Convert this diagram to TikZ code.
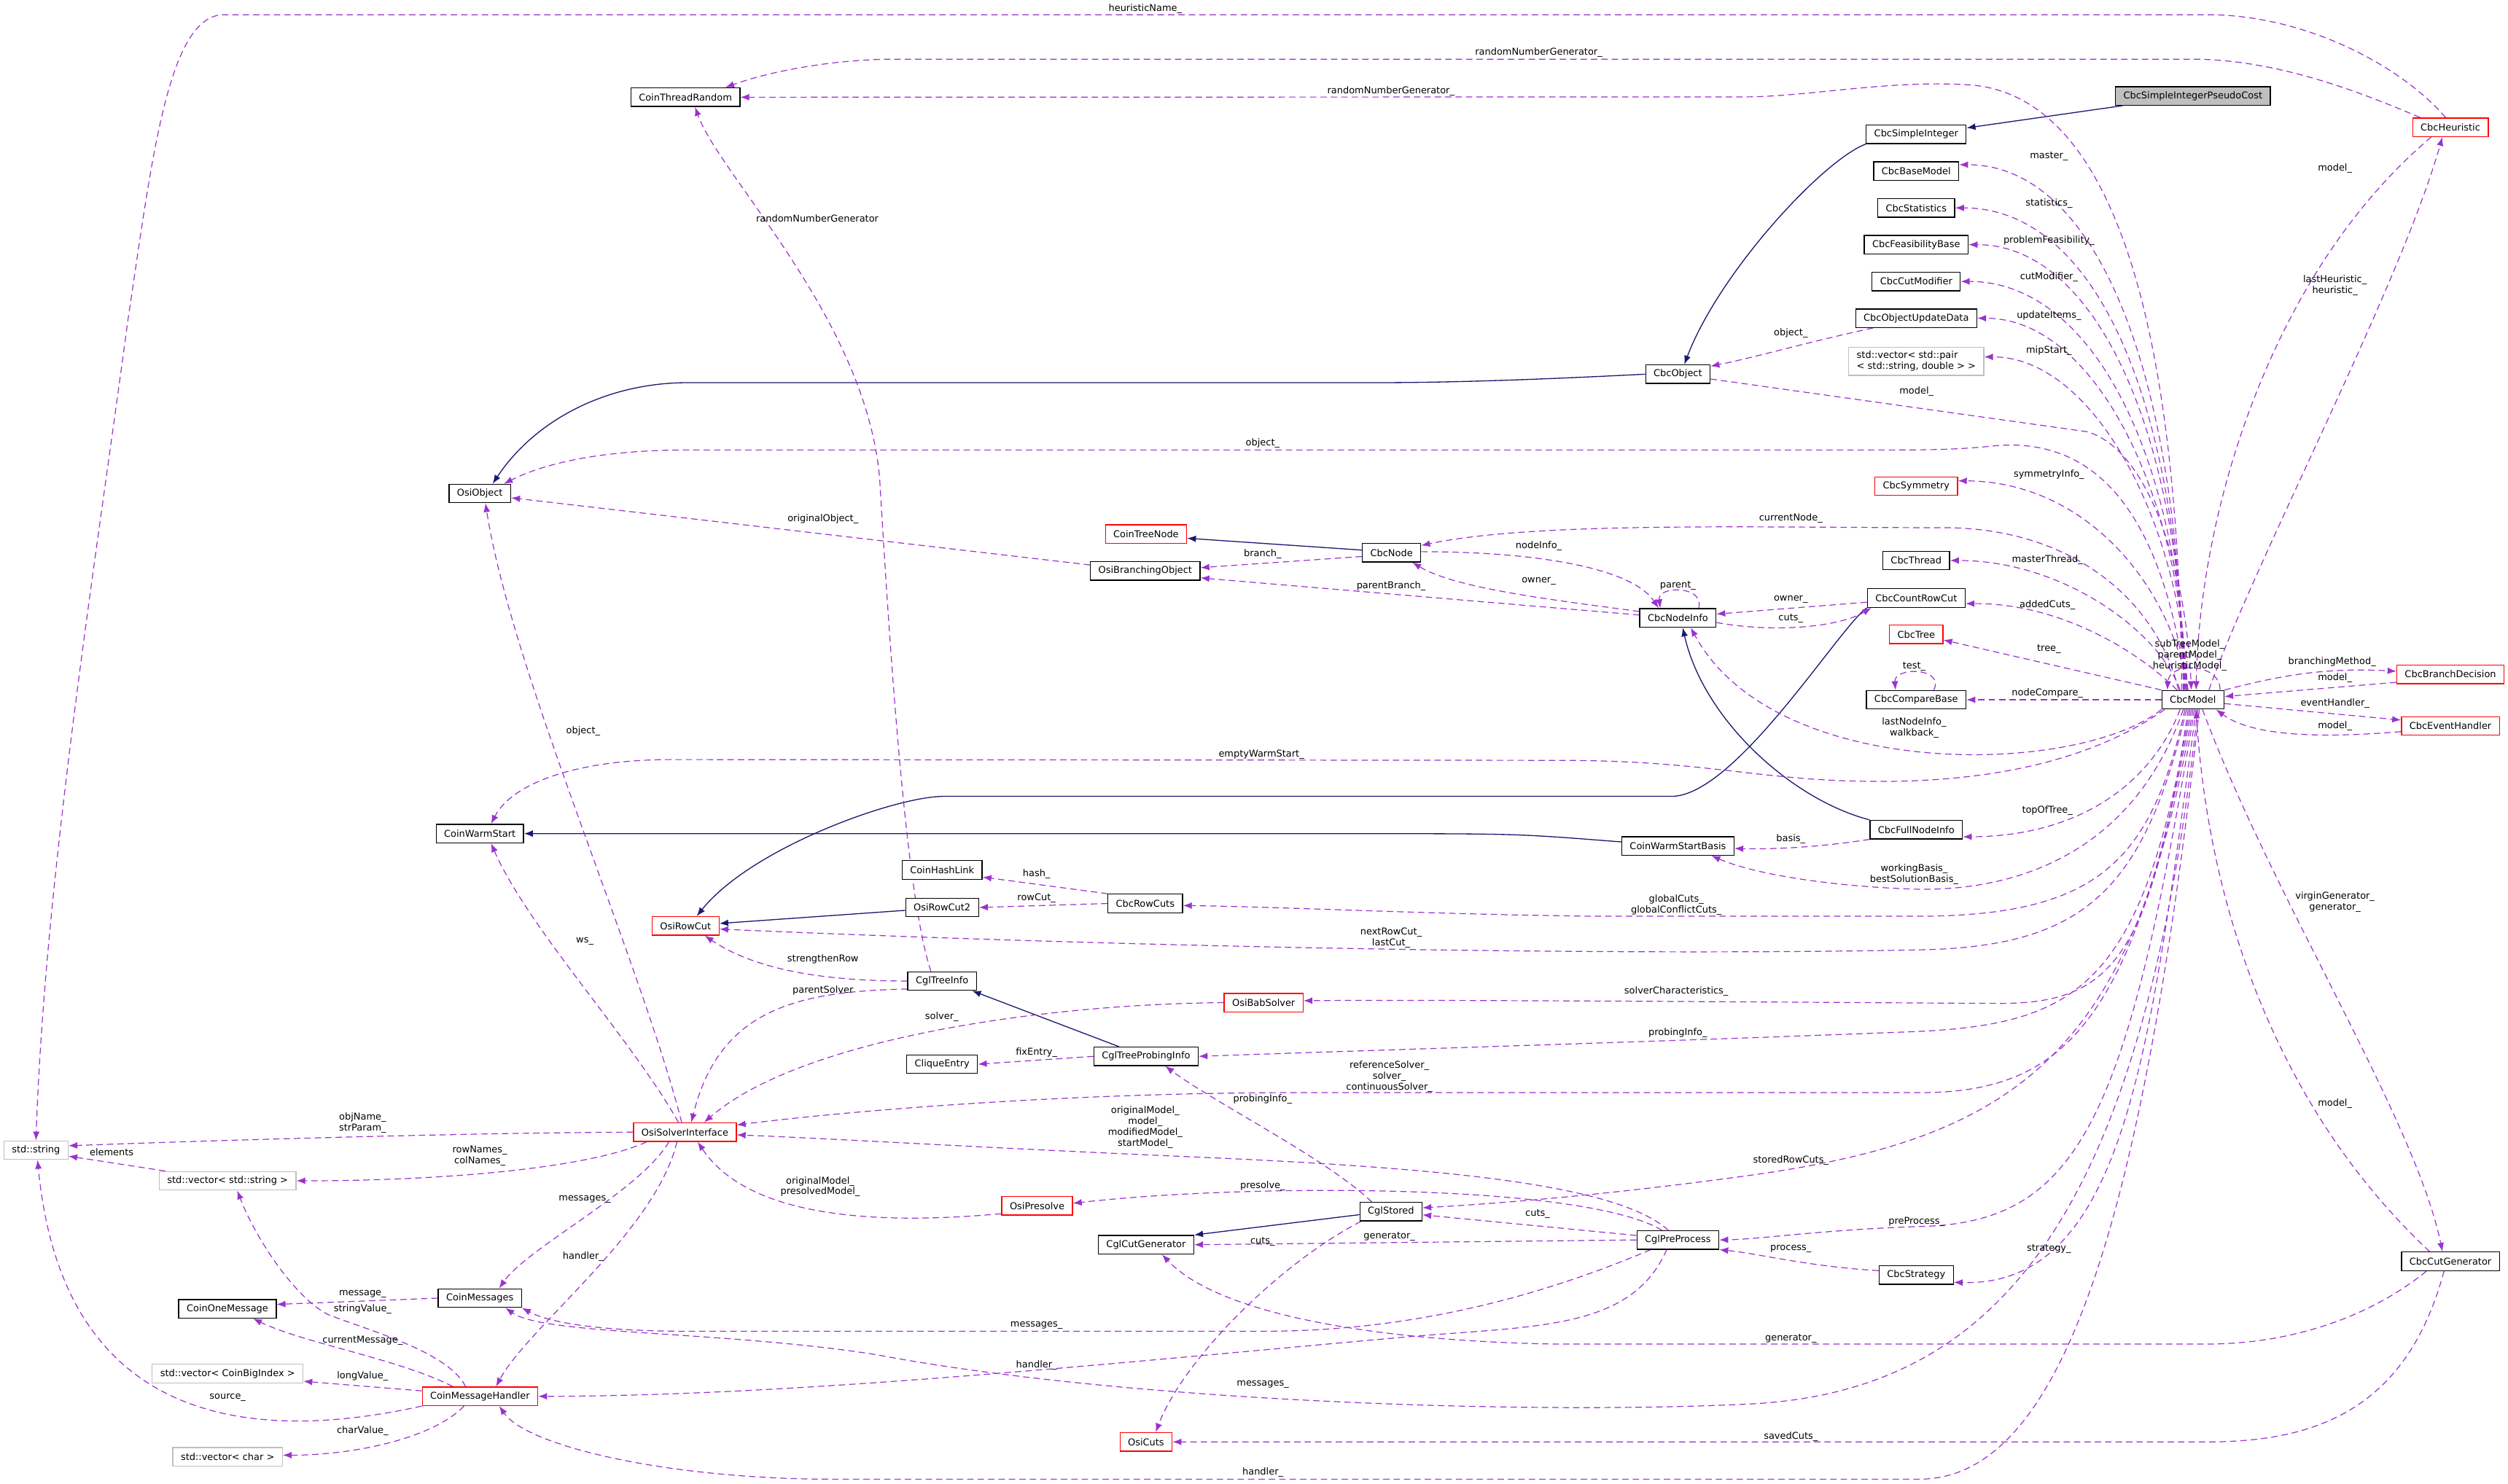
\documentclass[tikz,border=0pt]{standalone}
\usepackage{fontspec}
\setmainfont{DejaVu Sans}
\usetikzlibrary{arrows.meta}
\pgfdeclarelayer{edges}
\pgfsetlayers{edges,main}
\definecolor{EdgeUse}{HTML}{9A32CD}
\definecolor{EdgeInh}{HTML}{191970}
\definecolor{BoxGray}{HTML}{BFBFBF}
\definecolor{BoxRed}{HTML}{FF0000}
\tikzset{
  dxnode/.style={draw=black, fill=white, line width=0.6pt, inner xsep=5pt, inner ysep=1pt, minimum height=11.6pt, font=\fontsize{5.9}{6.8}\selectfont},
  dxred/.style={dxnode, draw=BoxRed},
  dxgray/.style={dxnode, draw=BoxGray},
  dxhl/.style={dxnode, fill=BoxGray},
  dxlabel/.style={align=center, inner sep=0pt, font=\fontsize{5.9}{6.8}\selectfont},
  dxinh/.style={-{Latex[length=5.5pt,width=4.2pt]}, line width=0.6pt, draw=EdgeInh},
  dxuse/.style={-{Latex[length=5.5pt,width=4.2pt]}, line width=0.55pt, draw=EdgeUse, dash pattern=on 4pt off 2.5pt}
}
\begin{document}
\begin{tikzpicture}[x=1pt,y=-1pt]
  \useasboundingbox (0,0) rectangle (1568,928);
  % classes
  \node[dxhl] (PseudoCost) at (1371,60) {CbcSimpleIntegerPseudoCost};
  \node[dxnode] (SimpleInteger) at (1198,84) {CbcSimpleInteger};
  \node[dxnode] (BaseModel) at (1198,107) {CbcBaseModel};
  \node[dxnode] (Statistics) at (1198,130) {CbcStatistics};
  \node[dxnode] (Feasibility) at (1198,153) {CbcFeasibilityBase};
  \node[dxnode] (CutModifier) at (1198,176) {CbcCutModifier};
  \node[dxnode] (UpdateData) at (1198,199) {CbcObjectUpdateData};
  \node[dxgray, align=left, inner ysep=2.5pt] (VecPair) at (1198,226) {std::vector< std::pair\\< std::string, double > >};
  \node[dxnode] (CbcObject) at (1049,234) {CbcObject};
  \node[dxred] (Symmetry) at (1198,304) {CbcSymmetry};
  \node[dxred] (Heuristic) at (1532,79.6) {CbcHeuristic};
  \node[dxnode] (ThreadRandom) at (428.5,60.8) {CoinThreadRandom};
  \node[dxnode] (OsiObject) at (300,308.6) {OsiObject};
  \node[dxred] (TreeNode) at (716.5,334) {CoinTreeNode};
  \node[dxnode] (BranchingObject) at (716,357) {OsiBranchingObject};
  \node[dxnode] (CbcNode) at (870,345.6) {CbcNode};
  \node[dxnode] (NodeInfo) at (1049,386.4) {CbcNodeInfo};
  \node[dxnode] (Thread) at (1198,350.5) {CbcThread};
  \node[dxnode] (CountRowCut) at (1198,374) {CbcCountRowCut};
  \node[dxred] (Tree) at (1198,396.7) {CbcTree};
  \node[dxnode] (CompareBase) at (1198,437.6) {CbcCompareBase};
  \node[dxnode] (CbcModel) at (1371,437.6) {CbcModel};
  \node[dxred] (BranchDecision) at (1532,421.7) {CbcBranchDecision};
  \node[dxred] (EventHandler) at (1532,454) {CbcEventHandler};
  \node[dxnode] (WarmStart) at (300,521.3) {CoinWarmStart};
  \node[dxnode] (WarmStartBasis) at (1049,529) {CoinWarmStartBasis};
  \node[dxnode] (FullNodeInfo) at (1198,518.8) {CbcFullNodeInfo};
  \node[dxnode] (HashLink) at (589,544) {CoinHashLink};
  \node[dxnode] (RowCut2) at (589,567.5) {OsiRowCut2};
  \node[dxred] (RowCut) at (428.6,579) {OsiRowCut};
  \node[dxnode] (RowCuts) at (716,565) {CbcRowCuts};
  \node[dxnode] (TreeInfo) at (589,613.5) {CglTreeInfo};
  \node[dxred] (BabSolver) at (790,627) {OsiBabSolver};
  \node[dxnode] (CliqueEntry) at (589,665.5) {CliqueEntry};
  \node[dxnode] (ProbingInfo) at (716.5,660.6) {CglTreeProbingInfo};
  \node[dxgray] (StdString) at (22.5,719.3) {std::string};
  \node[dxgray] (VecString) at (142.3,738.4) {std::vector< std::string >};
  \node[dxred] (SolverIf) at (428.2,708) {OsiSolverInterface};
  \node[dxred] (Presolve) at (648.4,754) {OsiPresolve};
  \node[dxnode] (Stored) at (869.6,757.7) {CglStored};
  \node[dxnode] (CutGen) at (716.5,778.4) {CglCutGenerator};
  \node[dxnode] (PreProcess) at (1049,775.4) {CglPreProcess};
  \node[dxnode] (Strategy) at (1198,797.4) {CbcStrategy};
  \node[dxnode] (CbcCutGen) at (1532,788.8) {CbcCutGenerator};
  \node[dxnode] (Messages) at (300,811.8) {CoinMessages};
  \node[dxnode] (OneMessage) at (142.2,818.5) {CoinOneMessage};
  \node[dxgray] (VecBigIndex) at (142.3,859) {std::vector< CoinBigIndex >};
  \node[dxred] (MsgHandler) at (300.1,873.2) {CoinMessageHandler};
  \node[dxgray] (VecChar) at (142.3,911) {std::vector< char >};
  \node[dxred] (OsiCuts) at (716.5,901.7) {OsiCuts};
  % member labels
  \node[dxlabel] (lbHeurName) at (716,5.5) {heuristicName\_};
  \node[dxlabel] (lbRngHeur) at (962,33) {randomNumberGenerator\_};
  \node[dxlabel] (lbRngModel) at (869.6,57) {randomNumberGenerator\_};
  \node[dxlabel] (lbRngTree) at (511,136.4) {randomNumberGenerator};
  \node[dxlabel] (lbMaster) at (1281,97.9) {master\_};
  \node[dxlabel] (lbStats) at (1281,127.4) {statistics\_};
  \node[dxlabel] (lbFeas) at (1281,150.6) {problemFeasibility\_};
  \node[dxlabel] (lbCutMod) at (1281,173.4) {cutModifier\_};
  \node[dxlabel] (lbUpdate) at (1281,197.2) {updateItems\_};
  \node[dxlabel] (lbMip) at (1281,219.1) {mipStart\_};
  \node[dxlabel] (lbObjUpd) at (1119.6,208.2) {object\_};
  \node[dxlabel] (lbModelObj) at (1198.2,244.6) {model\_};
  \node[dxlabel] (lbObjModel) at (789.4,277.4) {object\_};
  \node[dxlabel] (lbSym) at (1281,297) {symmetryInfo\_};
  \node[dxlabel] (lbModelHeur) at (1459.8,105.2) {model\_};
  \node[dxlabel] (lbHeur) at (1459.8,178.4) {lastHeuristic\_\\heuristic\_};
  \node[dxlabel] (lbCurNode) at (1119.6,324.1) {currentNode\_};
  \node[dxlabel] (lbOrigObj) at (514.5,324.8) {originalObject\_};
  \node[dxlabel] (lbBranch) at (789.4,346.5) {branch\_};
  \node[dxlabel] (lbNodeInfo) at (962,341.4) {nodeInfo\_};
  \node[dxlabel] (lbOwnerNode) at (962,363.4) {owner\_};
  \node[dxlabel] (lbParBranch) at (869.7,366.3) {parentBranch\_};
  \node[dxlabel] (lbParent) at (1049,366.3) {parent\_};
  \node[dxlabel] (lbMThread) at (1280,350.2) {masterThread\_};
  \node[dxlabel] (lbOwnerCut) at (1119.6,375) {owner\_};
  \node[dxlabel] (lbCuts) at (1119.6,386.8) {cuts\_};
  \node[dxlabel] (lbAdded) at (1280,378.4) {addedCuts\_};
  \node[dxlabel] (lbTree) at (1281,405.9) {tree\_};
  \node[dxlabel] (lbSelf) at (1369,410) {subTreeModel\_\\parentModel\_\\heuristicModel\_};
  \node[dxlabel] (lbTest) at (1196.7,416.7) {test\_};
  \node[dxlabel] (lbCompare) at (1280,433.6) {nodeCompare\_};
  \node[dxlabel] (lbBranchM) at (1458,414) {branchingMethod\_};
  \node[dxlabel] (lbModelBD) at (1459.8,424) {model\_};
  \node[dxlabel] (lbEvent) at (1459.8,439.7) {eventHandler\_};
  \node[dxlabel] (lbModelEH) at (1459.8,454.2) {model\_};
  \node[dxlabel] (lbLastNode) at (1196.7,455) {lastNodeInfo\_\\walkback\_};
  \node[dxlabel] (lbObjSolver) at (364.6,457.4) {object\_};
  \node[dxlabel] (lbEmptyWS) at (788.6,471.7) {emptyWarmStart\_};
  \node[dxlabel] (lbTop) at (1280,507) {topOfTree\_};
  \node[dxlabel] (lbBasis) at (1119.6,524.5) {basis\_};
  \node[dxlabel] (lbWorkBasis) at (1196.7,547) {workingBasis\_\\bestSolutionBasis\_};
  \node[dxlabel] (lbHash) at (648,546.5) {hash\_};
  \node[dxlabel] (lbRowCut) at (648,561.8) {rowCut\_};
  \node[dxlabel] (lbGlobal) at (1048,565.8) {globalCuts\_\\globalConflictCuts\_};
  \node[dxlabel] (lbVirgin) at (1459.8,564) {virginGenerator\_\\generator\_};
  \node[dxlabel] (lbNextRow) at (869.7,586.7) {nextRowCut\_\\lastCut\_};
  \node[dxlabel] (lbWs) at (365.6,588.7) {ws\_};
  \node[dxlabel] (lbStrengthen) at (514.5,600) {strengthenRow};
  \node[dxlabel] (lbParSolver) at (514.5,619.2) {parentSolver};
  \node[dxlabel] (lbSolverChar) at (1048,619.8) {solverCharacteristics\_};
  \node[dxlabel] (lbSolverBab) at (588.8,635.8) {solver\_};
  \node[dxlabel] (lbProbModel) at (1049,646) {probingInfo\_};
  \node[dxlabel] (lbFix) at (648,658.4) {fixEntry\_};
  \node[dxlabel] (lbRefSolver) at (868.6,673.4) {referenceSolver\_\\solver\_\\continuousSolver\_};
  \node[dxlabel] (lbProbStored) at (789.4,687.6) {probingInfo\_};
  \node[dxlabel] (lbModelCG) at (1459.8,690) {model\_};
  \node[dxlabel] (lbObjName) at (226.7,702.2) {objName\_\\strParam\_};
  \node[dxlabel] (lbOrigModel) at (716,705) {originalModel\_\\model\_\\modifiedModel\_\\startModel\_};
  \node[dxlabel] (lbElements) at (69.8,720.6) {elements};
  \node[dxlabel] (lbRowNames) at (300,722.7) {rowNames\_\\colNames\_};
  \node[dxlabel] (lbStoredRow) at (1119.6,725.5) {storedRowCuts\_};
  \node[dxlabel] (lbPresModel) at (512.8,742.1) {originalModel\_\\presolvedModel\_};
  \node[dxlabel] (lbPresolve) at (789.4,741.5) {presolve\_};
  \node[dxlabel] (lbMsgSolver) at (365.6,749.8) {messages\_};
  \node[dxlabel] (lbCutsPre) at (961.3,759) {cuts\_};
  \node[dxlabel] (lbPreProc) at (1198.2,764) {preProcess\_};
  \node[dxlabel] (lbGenPre) at (868.6,773.3) {generator\_};
  \node[dxlabel] (lbCutsStored) at (789.4,776.6) {cuts\_};
  \node[dxlabel] (lbProcess) at (1119.6,780.8) {process\_};
  \node[dxlabel] (lbStrategy) at (1281,780.8) {strategy\_};
  \node[dxlabel] (lbHandSolver) at (364.6,785.8) {handler\_};
  \node[dxlabel] (lbMessage) at (226.7,809.3) {message\_};
  \node[dxlabel] (lbString) at (226.7,818.6) {stringValue\_};
  \node[dxlabel] (lbMsgPre) at (648,829) {messages\_};
  \node[dxlabel] (lbGenCbc) at (1119.6,837) {generator\_};
  \node[dxlabel] (lbCurMsg) at (226.7,838.4) {currentMessage\_};
  \node[dxlabel] (lbHandPre) at (648,853.6) {handler\_};
  \node[dxlabel] (lbLong) at (226.7,860.6) {longValue\_};
  \node[dxlabel] (lbMsgModel) at (789.5,865.6) {messages\_};
  \node[dxlabel] (lbSource) at (142.3,873.8) {source\_};
  \node[dxlabel] (lbChar) at (226.7,894.7) {charValue\_};
  \node[dxlabel] (lbSaved) at (1119.6,898.4) {savedCuts\_};
  \node[dxlabel] (lbHandModel) at (789.5,921) {handler\_};
  \begin{pgfonlayer}{edges}
  % inheritance
  \draw[dxinh] ([xshift=-44pt]PseudoCost.south) -- ([yshift=4pt]SimpleInteger.east);
  \draw[dxinh] (SimpleInteger.south west) .. controls (1140,100) and (1075,170) .. ([xshift=4pt]CbcObject.north);
  \draw[dxinh] (CbcObject.west) .. controls (950,238) and (900,239.3) .. (860,239.3) -- (430,239.3) .. controls (380,239.3) and (335,262) .. ([xshift=8pt]OsiObject.north);
  \draw[dxinh] ([yshift=1.6pt]CbcNode.west) -- ([yshift=-2.6pt]TreeNode.east);
  \draw[dxinh] (CountRowCut.south west) .. controls (1150,392) and (1085,498) .. (1045,498) -- (590,498) .. controls (560,498) and (470,530) .. ([xshift=7pt]RowCut.north);
  \draw[dxinh] (FullNodeInfo.north west) .. controls (1120,500) and (1065,450) .. ([xshift=3pt]NodeInfo.south);
  \draw[dxinh] ([yshift=2.5pt]WarmStartBasis.west) .. controls (950,521.5) .. (870,521.3) -- (WarmStart.east);
  \draw[dxinh] ([yshift=-1.8pt]RowCut2.west) -- ([yshift=1.5pt]RowCut.east);
  \draw[dxinh] ([xshift=-17pt]ProbingInfo.north) -- ([xshift=-3pt]TreeInfo.south east);
  \draw[dxinh] ([yshift=-1.9pt]Stored.west) -- (CutGen.north east);
  % CbcModel members, upper side
  \draw[dxuse] ([xshift=-6pt]CbcModel.north) .. controls (1362,230) and (1310,103) .. ([yshift=4pt]BaseModel.east);
  \draw[dxuse] ([xshift=-5.5pt]CbcModel.north) .. controls (1362,250) and (1310,130) .. (Statistics.east);
  \draw[dxuse] ([xshift=-5pt]CbcModel.north) .. controls (1363,270) and (1310,153) .. (Feasibility.east);
  \draw[dxuse] ([xshift=-4.5pt]CbcModel.north) .. controls (1363,290) and (1310,176) .. (CutModifier.east);
  \draw[dxuse] ([xshift=-4pt]CbcModel.north) .. controls (1364,310) and (1310,199) .. (UpdateData.east);
  \draw[dxuse] ([xshift=-3.5pt]CbcModel.north) .. controls (1364,330) and (1310,223) .. ([yshift=2.8pt]VecPair.east);
  \draw[dxuse] ([xshift=-3pt]CbcModel.north) .. controls (1355,360) and (1300,301) .. ([yshift=3.3pt]Symmetry.east);
  \draw[dxuse] ([yshift=-3pt]CbcObject.east) -- (1305,270) .. controls (1345,282) and (1367,360) .. ([xshift=-1pt]CbcModel.north);
  \draw[dxuse] ([xshift=-4pt]CbcModel.north) .. controls (1352,320) and (1310,272) .. (1245,279) .. controls (1225,281) and (1210,281.4) .. (1180,281.4) -- (430,281.4) .. controls (375,281.4) and (340,290) .. ([xshift=15pt]OsiObject.north);
  \draw[dxuse] ([xshift=-9pt]CbcModel.north) .. controls (1350,380) and (1300,330) .. (1215,330) .. controls (1100,330) and (960,326) .. ([yshift=4.5pt]CbcNode.east);
  \draw[dxuse] ([xshift=-8pt]CbcModel.north) .. controls (1350,395) and (1290,350.5) .. (Thread.east);
  \draw[dxuse] ([xshift=-10pt]CbcModel.north) .. controls (1340,410) and (1290,377) .. ([yshift=-3.5pt]CountRowCut.east);
  \draw[dxuse] (CbcModel.north west) -- ([yshift=-3.5pt]Tree.east);
  \draw[dxuse] (CbcModel.west) -- (CompareBase.east);
  \draw[dxuse] ([xshift=17pt]CbcModel.north) .. controls (1388,414) and (1356,414) .. ([xshift=-16pt]CbcModel.north);
  \draw[dxuse] ([xshift=-7pt]CbcModel.north) .. controls (1362,200) and (1320,58) .. (1230,53) .. controls (1180,50) and (1130,60.6) .. (1090,60.6) -- (ThreadRandom.east);
  % heuristic
  \draw[dxuse] ([xshift=10pt]CbcModel.north) .. controls (1410,350) and (1500,180) .. ([xshift=-5pt]Heuristic.south);
  \draw[dxuse] ([xshift=-12pt]Heuristic.south) .. controls (1420,170) and (1375,320) .. ([xshift=2pt]CbcModel.north);
  \draw[dxuse] ([xshift=-3pt]Heuristic.north) .. controls (1500,40) and (1440,9.2) .. (1380,9.2) -- (140,9.2) .. controls (105,9.2) and (95,100) .. (80,200) .. controls (60,350) and (28,550) .. (StdString.north);
  \draw[dxuse] ([xshift=-19pt]Heuristic.north) .. controls (1470,55) and (1420,37) .. (1370,37) -- (560,37) .. controls (520,37) and (480,45) .. ([xshift=25pt]ThreadRandom.north);
  \draw[dxuse] ([xshift=-7pt]TreeInfo.north) .. controls (566,560) and (556,400) .. (550,300) .. controls (542,200) and (450,110) .. ([xshift=6pt]ThreadRandom.south);
  % branch and bound nodes
  \draw[dxuse] ([xshift=-27pt]UpdateData.south) .. controls (1130,214) and (1095,224) .. ([yshift=5pt]CbcObject.east);
  \draw[dxuse] ([yshift=3.7pt]BranchingObject.west) -- ([yshift=-2.7pt]OsiObject.east);
  \draw[dxuse] ([yshift=-2.4pt]CbcNode.west) -- ([yshift=2pt]BranchingObject.east);
  \draw[dxuse] ([yshift=1.8pt]NodeInfo.west) -- ([yshift=-4.4pt]BranchingObject.east);
  \draw[dxuse] ([yshift=0.6pt]CbcNode.east) .. controls (960,345) and (1020,355) .. ([xshift=-12pt]NodeInfo.north);
  \draw[dxuse] ([yshift=4pt]NodeInfo.west) .. controls (970,375) and (910,368) .. ([xshift=13pt]CbcNode.south);
  \draw[dxuse] ([xshift=13pt]NodeInfo.north) .. controls (1066,366) and (1036,366) .. ([xshift=-11pt]NodeInfo.north);
  \draw[dxuse] ([yshift=-2.6pt]CountRowCut.west) -- ([yshift=2.4pt]NodeInfo.east);
  \draw[dxuse] ([yshift=-2.9pt]NodeInfo.east) .. controls (1110,396) and (1150,392) .. ([xshift=-28pt]CountRowCut.south);
  \draw[dxuse] ([xshift=11pt]CompareBase.north) .. controls (1216,417) and (1184,417) .. ([xshift=-13pt]CompareBase.north);
  \draw[dxuse] (FullNodeInfo.south west) .. controls (1130,531) and (1100,531) .. ([yshift=-1.6pt]WarmStartBasis.east);
  \draw[dxuse] (RowCuts.north west) -- ([yshift=-4.5pt]HashLink.east);
  \draw[dxuse] (RowCuts.west) -- (RowCut2.east);
  \draw[dxuse] (TreeInfo.west) .. controls (510,613.5) and (470,605) .. ([xshift=12pt]RowCut.south);
  \draw[dxuse] ([yshift=-5pt]TreeInfo.west) .. controls (500,620) and (450,630) .. ([xshift=4pt]SolverIf.north);
  \draw[dxuse] (ProbingInfo.west) -- (CliqueEntry.east);
  % CbcModel members, lower side
  \draw[dxuse] (CbcModel.south west) .. controls (1300,485) and (1110,490) .. ([xshift=8pt]NodeInfo.south);
  \draw[dxuse] ([xshift=2pt]CbcModel.south west) .. controls (1290,488) and (1200,492) .. (1130,487) .. controls (1080,483) and (1050,476) .. (980,475.5) -- (420,475) .. controls (360,475) and (320,490) .. ([xshift=7pt]WarmStart.north);
  \draw[dxuse] ([xshift=-8pt]CbcModel.south) .. controls (1345,490) and (1300,523) .. ([yshift=-4.5pt]FullNodeInfo.east);
  \draw[dxuse] ([xshift=-6pt]CbcModel.south) .. controls (1335,530) and (1265,558) .. (1196,556) .. controls (1140,554) and (1095,546) .. ([xshift=21pt]WarmStartBasis.south);
  \draw[dxuse] ([xshift=-5pt]CbcModel.south) .. controls (1345,540) and (1310,572.5) .. (1200,573) -- (1000,573) .. controls (900,572) and (800,567) .. ([yshift=-1.3pt]RowCuts.east);
  \draw[dxuse] ([xshift=-4pt]CbcModel.south) .. controls (1340,560) and (1300,592) .. (1200,594) .. controls (1000,598) and (700,592) .. ([yshift=-2pt]RowCut.east);
  \draw[dxuse] ([xshift=-3pt]CbcModel.south) .. controls (1345,600) and (1320,627.5) .. (1250,627.5) .. controls (1150,627) and (900,625) .. ([yshift=1.2pt]BabSolver.east);
  \draw[dxuse] ([xshift=-2pt]CbcModel.south) .. controls (1340,615) and (1300,640) .. (1200,645) .. controls (1050,651) and (850,657) .. (ProbingInfo.east);
  \draw[dxuse] ([xshift=-1pt]CbcModel.south) .. controls (1335,640) and (1290,683.3) .. (1200,683.3) -- (800,683.3) .. controls (650,684) and (520,696) .. ([yshift=4.5pt]SolverIf.east);
  \draw[dxuse] (CbcModel.south) .. controls (1335,660) and (1260,712) .. (1094,735) .. controls (1000,748) and (930,753) .. ([yshift=2.4pt]Stored.east);
  \draw[dxuse] ([xshift=1pt]CbcModel.south) .. controls (1330,700) and (1300,765) .. (1200,767) .. controls (1140,769) and (1100,775) .. (PreProcess.east);
  \draw[dxuse] ([xshift=2pt]CbcModel.south) .. controls (1345,650) and (1330,805) .. ([yshift=-4.5pt]Strategy.east);
  \draw[dxuse] ([xshift=3pt]CbcModel.south) .. controls (1340,760) and (1250,870) .. (1094,878) .. controls (950,885) and (700,876) .. (547,847) .. controls (450,832) and (340,835) .. ([xshift=16pt]Messages.south);
  \draw[dxuse] ([xshift=4pt]CbcModel.south) .. controls (1340,760) and (1290,925) .. (1200,925) -- (520,925) .. controls (420,925) and (330,905) .. ([xshift=12pt]MsgHandler.south);
  \draw[dxuse] ([xshift=6pt]CbcModel.south) .. controls (1420,560) and (1510,700) .. ([xshift=-5pt]CbcCutGen.north);
  \draw[dxuse] ([xshift=-13pt]CbcCutGen.north) .. controls (1420,690) and (1380,560) .. ([xshift=2pt]CbcModel.south);
  \draw[dxuse] ([xshift=-4pt]CbcCutGen.south) .. controls (1505,880) and (1450,901.7) .. (1380,901.7) -- (OsiCuts.east);
  \draw[dxuse] ([xshift=-15pt]CbcCutGen.south) .. controls (1480,825) and (1430,840.5) .. (1380,840.5) -- (970,840.5) .. controls (850,838) and (760,820) .. ([xshift=10pt]CutGen.south);
  \draw[dxuse] (CbcModel.north east) .. controls (1420,424) and (1450,417) .. ([yshift=1.9pt]BranchDecision.west);
  \draw[dxuse] ([yshift=-5pt]BranchDecision.west) -- ([yshift=2pt]CbcModel.east);
  \draw[dxuse] ([yshift=-2.4pt]CbcModel.east) -- ([yshift=3.7pt]EventHandler.west);
  \draw[dxuse] ([yshift=-3.5pt]EventHandler.west) .. controls (1460,461) and (1410,462) .. ([xshift=14.5pt]CbcModel.south);
  % cut generation and preprocessing
  \draw[dxuse] ([xshift=-12pt]Stored.north) .. controls (830,725) and (760,690) .. ([xshift=12pt]ProbingInfo.south);
  \draw[dxuse] ([yshift=2.8pt]PreProcess.west) -- ([yshift=-2pt]Stored.east);
  \draw[dxuse] (PreProcess.west) -- (CutGen.east);
  \draw[dxuse] ([xshift=1pt]Stored.south west) .. controls (800,790) and (740,850) .. ([xshift=6pt]OsiCuts.north);
  \draw[dxuse] ([yshift=2.8pt]Strategy.west) .. controls (1130,792) and (1100,784) .. (PreProcess.south east);
  \draw[dxuse] ([xshift=-10pt]PreProcess.north) .. controls (990,740) and (780,740) .. ([yshift=1.5pt]Presolve.east);
  \draw[dxuse] ([xshift=-6pt]PreProcess.north) .. controls (1010,740) and (900,730) .. (735,723) .. controls (620,718) and (520,712) .. ([yshift=-1.7pt]SolverIf.east);
  \draw[dxuse] ([xshift=-17pt]PreProcess.south) .. controls (960,812) and (880,832.5) .. (790,832.5) -- (430,832.5) .. controls (380,832.5) and (345,828) .. (Messages.south east);
  \draw[dxuse] ([xshift=-7pt]PreProcess.south) .. controls (1020,832) and (960,829) .. (880,836) .. controls (700,852) and (500,873) .. (MsgHandler.east);
  % solver interface
  \draw[dxuse] (SolverIf.west) .. controls (280,708.5) and (110,714) .. ([yshift=2.8pt]StdString.east);
  \draw[dxuse] ([xshift=-24pt]SolverIf.south) .. controls (370,730) and (280,738.5) .. (VecString.east);
  \draw[dxuse] ([xshift=-39pt]VecString.north) -- ([yshift=-3.7pt]StdString.east);
  \draw[dxuse] ([xshift=-10pt]SolverIf.south) .. controls (400,745) and (330,780) .. ([xshift=12pt]Messages.north);
  \draw[dxuse] ([xshift=-5pt]SolverIf.south) .. controls (410,770) and (330,830) .. ([xshift=10pt]MsgHandler.north);
  \draw[dxuse] ([xshift=-4pt]SolverIf.north) .. controls (395,650) and (330,580) .. ([xshift=7pt]WarmStart.south);
  \draw[dxuse] ([xshift=-2pt]SolverIf.north) .. controls (400,600) and (320,420) .. ([xshift=3.5pt]OsiObject.south);
  \draw[dxuse] (BabSolver.west) .. controls (650,628) and (500,650) .. ([xshift=12pt]SolverIf.north);
  \draw[dxuse] ([yshift=-5pt]Presolve.west) .. controls (560,765) and (470,765) .. ([xshift=8pt]SolverIf.south);
  % messages
  \draw[dxuse] (Messages.west) -- ([yshift=2.8pt]OneMessage.east);
  \draw[dxuse] ([xshift=-9pt]MsgHandler.north) .. controls (280,845) and (230,832) .. (205,822) .. controls (185,812) and (160,775) .. ([xshift=6pt]VecString.south);
  \draw[dxuse] ([xshift=-17pt]MsgHandler.north) .. controls (250,850) and (190,840) .. ([xshift=16pt]OneMessage.south);
  \draw[dxuse] ([yshift=3.4pt]MsgHandler.west) -- ([yshift=-4.8pt]VecBigIndex.east);
  \draw[dxuse] (MsgHandler.south west) .. controls (170,900) and (40,900) .. ([xshift=1pt]StdString.south);
  \draw[dxuse] ([xshift=-10pt]MsgHandler.south) .. controls (270,900) and (220,910) .. ([yshift=1pt]VecChar.east);
  \end{pgfonlayer}
\end{tikzpicture}
\end{document}
